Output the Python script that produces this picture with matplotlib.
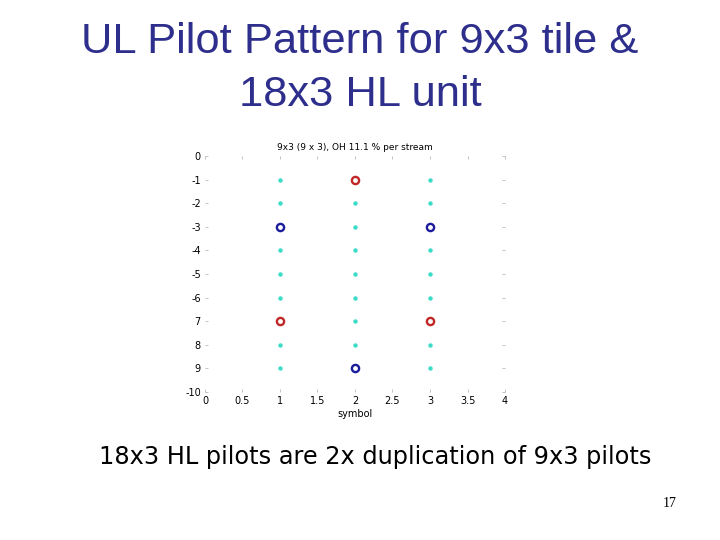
import numpy as np
import matplotlib
matplotlib.use('Agg')
import matplotlib.pyplot as plt

# grid of data subcarriers (symbol, row)
symbols = [1, 2, 3]
rows = [-1, -2, -3, -4, -5, -6, -7, -8, -9]

# pilot positions per stream
red_x = [2, 1, 3]
red_y = [-1, -7, -7]
blue_x = [1, 3, 2]
blue_y = [-3, -3, -9]

xticks = [0, 0.5, 1, 1.5, 2, 2.5, 3, 3.5, 4]
xtick_labels = ['0', '0.5', '1', '1.5', '2', '2.5', '3', '3.5', '4']
yticks = [0, -1, -2, -3, -4, -5, -6, -7, -8, -9, -10]
ytick_labels = ['0', '-1', '-2', '-3', '-4', '-5', '-6', '7', '8', '9', '-10']

title_col = '#2e2e8c'

fig = plt.figure(figsize=(7.2, 5.4), dpi=100)
fig.text(0.5, 0.922, 'UL Pilot Pattern for 9x3 tile &', ha='center', va='center',
         fontsize=31.3, color=title_col, family='Liberation Sans')
fig.text(0.5, 0.824, '18x3 HL unit', ha='center', va='center',
         fontsize=31.3, color=title_col, family='Liberation Sans')
fig.text(0.521, 0.153, '18x3 HL pilots are 2x duplication of 9x3 pilots', ha='center',
         va='center', fontsize=17.3, color='black', family='DejaVu Sans')
fig.text(0.930, 0.068, '17', ha='center', va='center', fontsize=10,
         color='black', family='Liberation Serif')

ax = fig.add_axes([0.2847, 0.2741, 0.4167, 0.437])
gx, gy = np.meshgrid(symbols, rows)
ax.plot(gx.ravel(), gy.ravel(), 'o', color='#3cdcc8', markersize=3.2, mec='none')
ax.plot(red_x, red_y, 'o', mfc='white', mec='#c02828', mew=1.7, markersize=5.2)
ax.plot(blue_x, blue_y, 'o', mfc='white', mec='#1c1c9c', mew=1.7, markersize=5.2)

ax.set_xlim(0, 4)
ax.set_ylim(-10, 0)
ax.set_xticks(xticks)
ax.set_xticklabels(xtick_labels)
ax.set_yticks(yticks)
ax.set_yticklabels(ytick_labels)
for s in ax.spines.values():
    s.set_visible(False)
ax.tick_params(labelsize=7, length=2, width=0.5, color='#aaaaaa', pad=3,
               top=True, right=True, direction='in')
ax.set_title('9x3 (9 x 3), OH 11.1 % per stream', fontsize=6.5, pad=4)
ax.set_xlabel('symbol', fontsize=7, labelpad=2)

fig.savefig('out.png', dpi=100)
